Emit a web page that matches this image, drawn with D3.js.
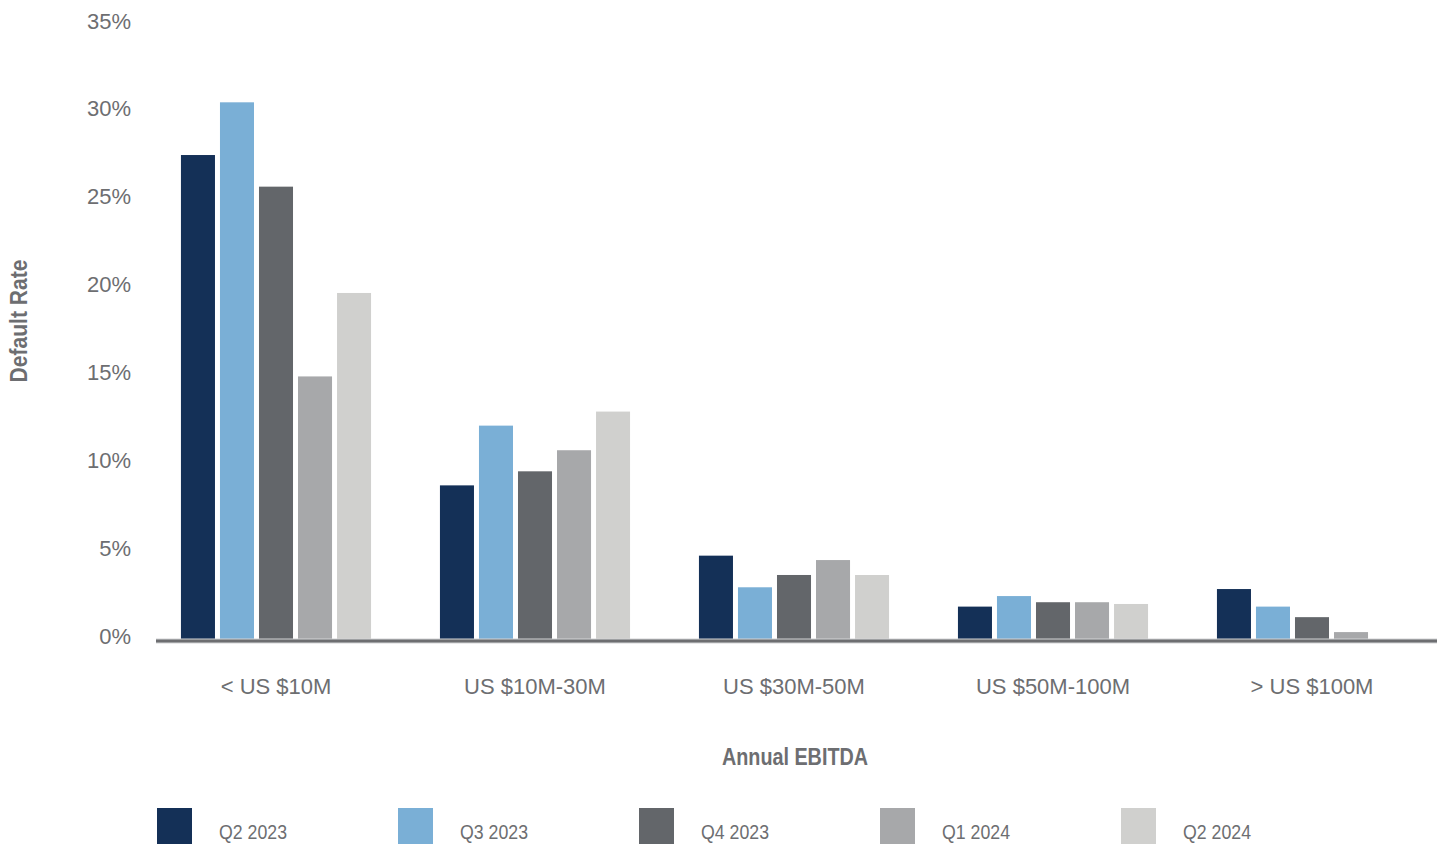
<!DOCTYPE html>
<html lang="en">
<head>
<meta charset="utf-8">
<title>Default Rate by Annual EBITDA</title>
<script src="https://d3js.org/d3.v7.min.js"></script>
<style>
  body { margin: 0; background: #fff; }
  .tick text { fill: #6d6e71; font-family: "Liberation Sans", Arial, sans-serif; font-size: 22px; }
  .axis-title { fill: #6d6e71; font-family: "Liberation Sans", Arial, sans-serif; font-weight: bold; font-size: 23px; }
  .legend text { fill: #6d6e71; font-family: "Liberation Sans", Arial, sans-serif; font-size: 21px; }
</style>
</head>
<body>
<div id="chart"></div>
<script>
// categories (x groups) and series
var categories = ["< US $10M", "US $10M-30M", "US $30M-50M", "US $50M-100M", "> US $100M"];
var seriesNames = ["Q2 2023", "Q3 2023", "Q4 2023", "Q1 2024", "Q2 2024"];
var seriesColors = ["#143057", "#7aafd6", "#63666a", "#a7a8aa", "#d0d0ce"];

// default rate (%) per series, one value per category
var q2_2023 = [27.6, 8.8, 4.8, 1.9, 2.9];
var q3_2023 = [30.6, 12.2, 3.0, 2.5, 1.9];
var q4_2023 = [25.8, 9.6, 3.7, 2.15, 1.3];
var q1_2024 = [15.0, 10.8, 4.55, 2.15, 0.45];
var q2_2024 = [19.75, 13.0, 3.7, 2.05, 0];

var yTicks = [0, 5, 10, 15, 20, 25, 30, 35];

var seriesValues = [q2_2023, q3_2023, q4_2023, q1_2024, q2_2024];

var width = 1443, height = 844;

var svg = d3.select("#chart")
  .append("svg")
    .attr("width", width)
    .attr("height", height);

// scales
var x0 = d3.scaleBand()
  .domain(categories)
  .range([146.5, 1441.5])
  .paddingInner(0.266)
  .paddingOuter(0.133);

var x1 = d3.scaleBand()
  .domain(seriesNames)
  .range([0, x0.bandwidth()])
  .paddingInner(0.128);

var y = d3.scaleLinear()
  .domain([0, 35])
  .range([640, 25]);

var color = d3.scaleOrdinal()
  .domain(seriesNames)
  .range(seriesColors);

// Y axis labels
var yAxis = svg.append("g")
  .attr("transform", "translate(131,0)")
  .call(d3.axisLeft(y).tickValues(yTicks).tickSize(0).tickPadding(0)
    .tickFormat(function(d){ return d + "%"; }));
yAxis.select(".domain").remove();
yAxis.selectAll("text").attr("dy", "0.0em").attr("y", 3);

// bars
var rows = [];
categories.forEach(function(c, i){
  seriesNames.forEach(function(s, j){
    rows.push({ cat: c, series: s, value: seriesValues[j][i] });
  });
});

svg.append("g")
  .selectAll("rect")
  .data(rows.filter(function(d){ return d.value > 0; }))
  .enter()
  .append("rect")
    .attr("x", function(d){ return x0(d.cat) + x1(d.series); })
    .attr("y", function(d){ return y(d.value); })
    .attr("width", x1.bandwidth())
    .attr("height", function(d){ return y(0) - y(d.value); })
    .style("fill", function(d){ return color(d.series); });

// baseline
svg.append("line")
  .attr("x1", 156).attr("x2", 1437)
  .attr("y1", y(0) + 1).attr("y2", y(0) + 1)
  .style("stroke", "#d3d4d6").style("stroke-width", 5);
svg.append("line")
  .attr("x1", 156).attr("x2", 1437)
  .attr("y1", y(0) + 1).attr("y2", y(0) + 1)
  .style("stroke", "#6d6e71").style("stroke-width", 3);

// X axis labels
var xAxis = svg.append("g")
  .attr("transform", "translate(0,678)")
  .call(d3.axisBottom(x0).tickSize(0).tickPadding(0));
xAxis.select(".domain").remove();
xAxis.selectAll("text").attr("dy", "0.71em");

// axis titles (condensed look)
svg.append("text")
  .attr("class", "axis-title")
  .attr("text-anchor", "middle")
  .attr("transform", "translate(27,321) rotate(-90)")
  .attr("textLength", 123)
  .attr("lengthAdjust", "spacingAndGlyphs")
  .text("Default Rate");

svg.append("text")
  .attr("class", "axis-title")
  .attr("text-anchor", "middle")
  .attr("x", 795)
  .attr("y", 765)
  .attr("textLength", 146)
  .attr("lengthAdjust", "spacingAndGlyphs")
  .text("Annual EBITDA");

// legend
var legend = svg.append("g").attr("class", "legend");
var item = legend.selectAll("g")
  .data(seriesNames)
  .enter()
  .append("g")
    .attr("transform", function(d, i){ return "translate(" + (157 + i * 241) + ",808)"; });

item.append("rect")
  .attr("width", 35)
  .attr("height", 36)
  .style("fill", function(d){ return color(d); });

item.append("text")
  .attr("x", 62)
  .attr("y", 31)
  .attr("textLength", 68)
  .attr("lengthAdjust", "spacingAndGlyphs")
  .text(function(d){ return d; });
</script>
</body>
</html>
